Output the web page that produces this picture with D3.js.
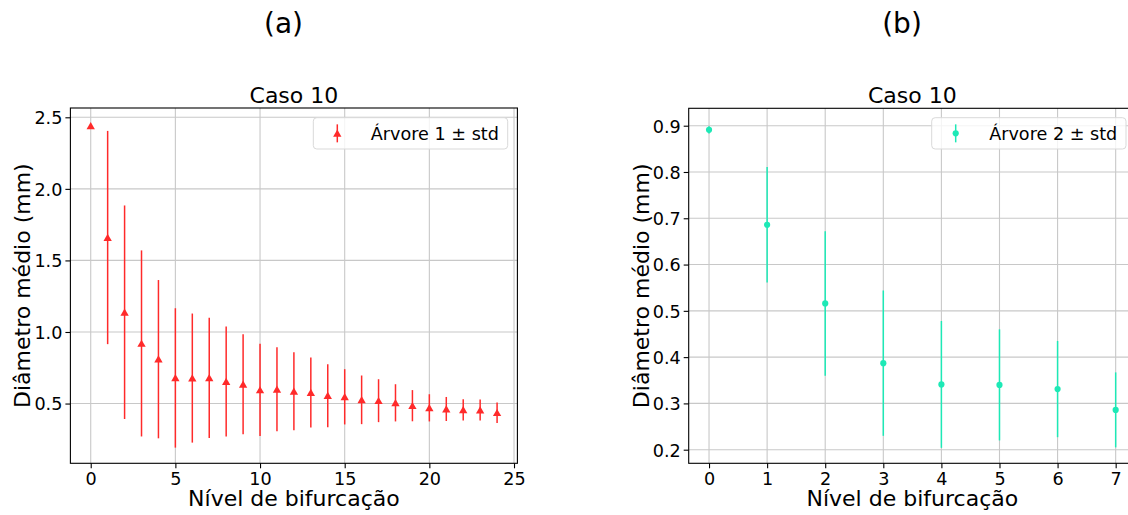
<!DOCTYPE html>
<html><head><meta charset="utf-8">
<script src="https://cdn.jsdelivr.net/npm/d3@7"></script>
<style>body{margin:0;background:#fff}svg{display:block}text{font-family:"DejaVu Sans",sans-serif}</style>
</head><body>
<svg id="c" width="1128" height="515"></svg>
<script>
const levels1 = d3.range(0, 25);
const mean1 = [2.44, 1.66, 1.138, 0.92, 0.81, 0.679, 0.678, 0.679, 0.654, 0.635, 0.595, 0.60, 0.586, 0.577, 0.555, 0.547, 0.526, 0.52, 0.505, 0.485, 0.47, 0.462, 0.456, 0.455, 0.436];
const std1  = [0.0, 0.745, 0.746, 0.65, 0.553, 0.487, 0.451, 0.42, 0.384, 0.35, 0.322, 0.294, 0.273, 0.245, 0.22, 0.193, 0.17, 0.15, 0.13, 0.109, 0.095, 0.084, 0.074, 0.074, 0.072];
const levels2 = d3.range(0, 8);
const mean2 = [0.891, 0.686, 0.516, 0.387, 0.341, 0.340, 0.331, 0.286];
const std2  = [0.008, 0.125, 0.156, 0.157, 0.137, 0.12, 0.104, 0.081];
const xTicks1 = [0, 5, 10, 15, 20, 25];
const yTicks1 = [0.5, 1.0, 1.5, 2.0, 2.5];
const xTicks2 = [0, 1, 2, 3, 4, 5, 6, 7];
const yTicks2 = [0.2, 0.3, 0.4, 0.5, 0.6, 0.7, 0.8, 0.9];
const titles = ["Caso 10", "Caso 10"];
const panelLabels = ["(a)", "(b)"];
const legendLabels = ["Árvore 1 ± std", "Árvore 2 ± std"];
const xLabel = "Nível de bifurcação";
const yLabel = "Diâmetro médio (mm)";
const colors = ["#ff2a2a", "#1de9b6"];

const svg = d3.select("#c");

function panel(cfg){
  const {x0,x1,y0,y1,xd,yd,xt,yt,lv,mn,sd,color,marker,title,label,legend,lgBox,ylabX} = cfg;
  const x = d3.scaleLinear().domain(xd).range([x0,x1]);
  const y = d3.scaleLinear().domain(yd).range([y1,y0]);
  const g = svg.append("g");
  // grid
  g.selectAll(".gx").data(xt).join("line").attr("x1",d=>x(d)).attr("x2",d=>x(d)).attr("y1",y0).attr("y2",y1).attr("stroke","#c8c8c8").attr("stroke-width",1.1);
  g.selectAll(".gy").data(yt).join("line").attr("y1",d=>y(d)).attr("y2",d=>y(d)).attr("x1",x0).attr("x2",x1).attr("stroke","#c8c8c8").attr("stroke-width",1.1);
  // axes
  const fmt = d3.format(".1f");
  const ax = g.append("g").attr("transform",`translate(0,${y1})`).call(d3.axisBottom(x).tickValues(xt).tickSize(5).tickPadding(4).tickFormat(d3.format("d")));
  const ay = g.append("g").attr("transform",`translate(${x0},0)`).call(d3.axisLeft(y).tickValues(yt).tickSize(5).tickPadding(3).tickFormat(fmt));
  [ax,ay].forEach(a=>{a.select(".domain").remove();a.selectAll("line").attr("stroke","#000").attr("stroke-width",1.1);a.selectAll("text").attr("font-size","17.6px").attr("font-family","DejaVu Sans").attr("fill","#000");});
  ay.selectAll("text").attr("dy","0.36em");
  ax.selectAll("text").attr("dy","0.71em");
  // spines
  g.append("rect").attr("x",x0).attr("y",y0).attr("width",x1-x0).attr("height",y1-y0).attr("fill","none").attr("stroke","#000").attr("stroke-width",1.1);
  // error bars
  const data = lv.map((l,i)=>({l,m:mn[i],s:sd[i]}));
  g.selectAll(".eb").data(data).join("line").attr("x1",d=>x(d.l)).attr("x2",d=>x(d.l)).attr("y1",d=>y(d.m-d.s)).attr("y2",d=>y(d.m+d.s)).attr("stroke",color).attr("stroke-width",1.5);
  const sym = d3.symbol().type(marker==="tri"?d3.symbolTriangle:d3.symbolCircle).size(marker==="tri"?30:30);
  g.selectAll(".mk").data(data).join("path").attr("d",sym).attr("transform",d=>`translate(${x(d.l)},${y(d.m)+(marker==="tri"?1:0)})`).attr("fill",color);
  // title
  g.append("text").attr("x",(x0+x1)/2).attr("y",y0-5).attr("text-anchor","middle").attr("font-size","22px").text(title);
  // labels
  g.append("text").attr("x",(x0+x1)/2).attr("y",505.5).attr("text-anchor","middle").attr("font-size","22px").text(xLabel);
  g.append("text").attr("transform",`translate(${ylabX},${(y0+y1)/2}) rotate(-90)`).attr("text-anchor","middle").attr("dy","0.35em").attr("font-size","22px").text(yLabel);
  // legend
  const [lx,ly,lw,lh] = lgBox;
  g.append("rect").attr("x",lx).attr("y",ly).attr("width",lw).attr("height",lh).attr("rx",3.5).attr("fill","rgba(255,255,255,0.8)").attr("stroke","#d9d9d9").attr("stroke-width",1);
  const mx = lx+24, my = ly+lh/2;
  g.append("line").attr("x1",mx).attr("x2",mx).attr("y1",my-9).attr("y2",my+9).attr("stroke",color).attr("stroke-width",1.5);
  g.append("path").attr("d",sym).attr("transform",`translate(${mx},${my+(marker==="tri"?1:0)})`).attr("fill",color);
  g.append("text").attr("x",lx+57.5).attr("y",my+6.3).attr("font-size","17.6px").text(legend);
  // panel label
  svg.append("text").attr("x",cfg.plx).attr("y",33).attr("text-anchor","middle").attr("font-family","'Liberation Serif','DejaVu Serif',serif").attr("font-size","28px").text(label);
}

panel({x0:70.4,x1:517.4,y0:108,y1:463.3,xd:[-1.2,25.2],yd:[0.0825,2.565],xt:xTicks1,yt:yTicks1,lv:levels1,mn:mean1,sd:std1,color:colors[0],marker:"tri",title:titles[0],label:panelLabels[0],legend:legendLabels[0],lgBox:[313.3,117.7,194.4,31.3],ylabX:22,plx:283.5});
panel({x0:688.7,x1:1136,y0:108.3,y1:463.3,xd:[-0.35,7.35],yd:[0.1706,0.9376],xt:xTicks2,yt:yTicks2,lv:levels2,mn:mean2,sd:std2,color:colors[1],marker:"circ",title:titles[1],label:panelLabels[1],legend:legendLabels[1],lgBox:[931.7,117.7,194.3,31.3],ylabX:641.5,plx:902});
</script>
</body></html>
